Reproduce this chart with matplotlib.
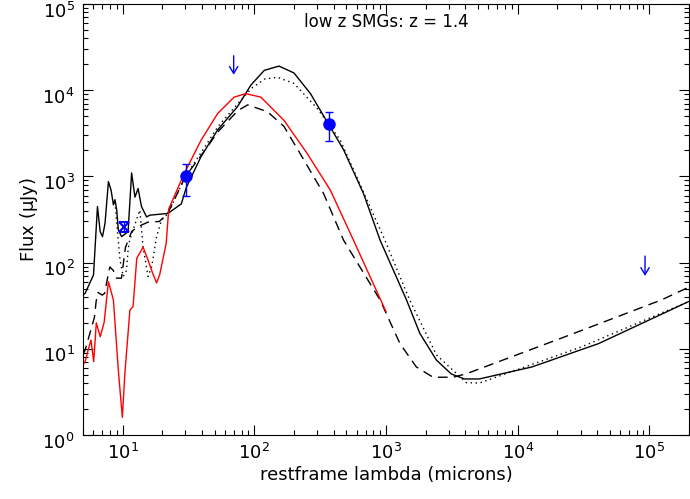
import math
import matplotlib
matplotlib.use('Agg')
import matplotlib.pyplot as plt
import matplotlib.transforms as mtransforms
from matplotlib.ticker import LogLocator, FuncFormatter, NullFormatter

plt.rcParams['font.family'] = ['DejaVu Sans']
plt.rcParams['mathtext.default'] = 'regular'

# 模型曲线（restframe 波长, 单位 micron；流量 μJy）
solid_lam = [5.0, 5.19, 6.01, 6.18, 6.44, 6.75, 7.03, 7.35, 7.80, 8.17, 8.51, 8.75, 9.02, 9.27,
             9.82, 11.0, 11.7, 12.4, 13.1, 13.9, 15.2, 16.1, 22.1, 27.9, 30.4, 39.4, 52.7,
             74.6, 94.2, 119, 154, 200, 267, 367, 476, 675, 902, 1432, 1807, 2415, 3133, 3945,
             5117, 12880, 41200, 200000]
solid_flux = [42, 44, 72, 152, 447, 229, 200, 286, 871, 692, 468, 537, 407, 240,
              200, 229, 1096, 575, 724, 447, 339, 355, 372, 480, 740, 1700, 3467,
              6457, 11480, 16980, 19050, 15850, 9120, 4000, 2042, 631, 182, 36.8, 15.1, 7.4, 5.1,
              4.47, 4.47, 6.17, 11.5, 35.5]

dotted_lam = [8.75, 9.33, 9.55, 10.1, 10.7, 11.0, 11.3, 13.5, 14.3, 15.6, 16.6, 18.1, 19.7,
              22.1, 30, 40, 53, 75, 95, 120, 150, 200, 300, 450, 955, 1514, 2415, 4070, 5117,
              30900, 200000]
dotted_flux = [500, 160, 107, 69, 81, 141, 182, 407, 151, 69, 89, 200, 309,
               372, 1000, 1950, 3800, 7000, 10500, 13500, 14100, 12000, 6170, 2630, 200, 36.8,
               8.5, 4.05, 4.0, 10.6, 35.5]

dashed_lam = [5.0, 5.19, 6.1, 6.3, 6.5, 7.0, 7.3, 7.8, 8.0, 8.5, 9.0, 9.8, 10.5, 11.7, 13.0,
              15.6, 19.0, 22.0, 30, 40, 53, 75, 89.1, 126, 168, 238, 336, 476, 902, 1276,
              1698, 2275, 3236, 4074, 22900, 123000, 200000]
dashed_flux = [8.5, 9.7, 23, 36, 45, 42, 44, 75, 89, 81, 66, 66, 150, 229, 260,
               295, 300, 372, 1000, 1800, 3300, 5800, 6760, 5620, 3800, 1550, 631, 182, 36.8,
               11.5, 6.17, 4.68, 4.68, 5.13, 13.8, 36.8, 52]

red_lam = [5.0, 5.19, 5.5, 5.75, 6.03, 6.31, 6.76, 7.24, 7.80, 8.51, 9.27, 9.95, 10.4,
           11.35, 12.0, 12.8, 14.3, 15.6, 16.6, 18.1, 19.1, 21.4, 22.4, 29.5, 39.4, 52.7, 70.3,
           86.3, 112, 168, 251, 378, 566, 1000]
red_flux = [6.5, 7.1, 10.0, 12.6, 7.1, 20, 13.8, 20.4, 60, 36.8, 5.7, 1.6, 5.2,
            28, 31, 112, 151, 107, 81, 58, 72, 166, 420, 1096, 2630, 5370, 8318,
            9120, 8318, 4467, 1862, 692, 182, 27]

# 观测数据点
obs_lam = [30.4, 367]
obs_flux = [1000, 4050]
obs_err_lo = [400, 1450]
obs_err_hi = [380, 1500]

irs_lam = [10.3]
irs_flux = [259]
irs_err_lo = [33]
irs_err_hi = [37]

# 上限（箭头）
lim_lam = [69.7, 92700]
lim_top = [25100, 119]
lim_bot = [15100, 70]

fig = plt.figure(figsize=(6.9, 4.99), dpi=100)
ax = fig.add_axes([83 / 690, 64 / 499, 606 / 690, 431 / 499])

ax.plot(solid_lam, solid_flux, color='black', lw=1.0)
ax.plot(dotted_lam, dotted_flux, color='black', lw=1.0, dashes=(1, 2.6))
ax.plot(dashed_lam, dashed_flux, color='black', lw=1.0, dashes=(7, 4.5))
ax.plot(red_lam, red_flux, color='red', lw=1.0)

ax.errorbar(obs_lam, obs_flux, yerr=[obs_err_lo, obs_err_hi], fmt='o', color='blue',
            ms=8, capsize=3, elinewidth=1, capthick=1)
ax.errorbar(irs_lam, irs_flux, yerr=[irs_err_lo, irs_err_hi], fmt='x', color='blue', ms=7,
            mew=1.5, capsize=3.5, elinewidth=1, capthick=1.2)

for lx, ty, by in zip(lim_lam, lim_top, lim_bot):
    ax.annotate('', xy=(lx, by), xytext=(lx, ty),
                arrowprops=dict(arrowstyle='->,head_length=0.5,head_width=0.3',
                                color='blue', lw=1.0, shrinkA=0, shrinkB=0))

ax.set_xscale('log')
ax.set_yscale('log')
ax.set_xlim(5, 2e5)
ax.set_ylim(1, 1e5)

fmt = FuncFormatter(lambda v, p: '10$^{%d}$' % round(math.log10(v)))
for axis in (ax.xaxis, ax.yaxis):
    axis.set_major_locator(LogLocator(base=10, numticks=12))
    axis.set_minor_locator(LogLocator(base=10, subs=range(2, 10), numticks=12))
    axis.set_major_formatter(fmt)
    axis.set_minor_formatter(NullFormatter())

ax.tick_params(which='both', direction='in', top=True, right=True, labelsize=13, width=0.8)
ax.tick_params(which='major', length=7, pad=6)
ax.tick_params(which='minor', length=3.5)
for s in ax.spines.values():
    s.set_linewidth(0.8)

# y 轴刻度标签略微下移
shift = mtransforms.ScaledTranslation(0, -4 / 72, fig.dpi_scale_trans)
for lab in ax.get_yticklabels():
    lab.set_transform(lab.get_transform() + shift)

ax.set_xlabel('restframe lambda (microns)', fontsize=13, labelpad=2)
ax.set_ylabel(r'Flux ($\mu$Jy)', fontsize=13, labelpad=2)
ax.text(0.5, 0.958, 'low z SMGs: z = 1.4', transform=ax.transAxes, ha='center', va='center',
        fontsize=12)

plt.savefig('out.png', dpi=100)
plt.close()
